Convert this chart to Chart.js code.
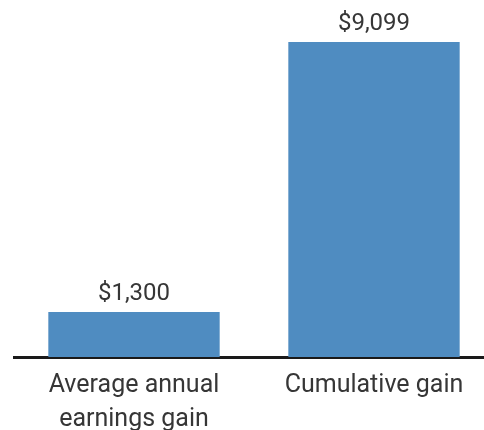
<!DOCTYPE html>
<html>
<head>
<meta charset="utf-8">
<script src="https://cdn.jsdelivr.net/npm/chart.js@4"></script>
<style>
  html, body { margin: 0; padding: 0; background: #fff; overflow: hidden; }
  #clip { width: 484px; height: 430px; overflow: hidden; }
  #wrap { width: 494px; height: 448px; position: relative; }
</style>
</head>
<body>
<div id="clip"><div id="wrap"><canvas id="gainChart"></canvas></div></div>
<script>
// datos del gráfico
const categories = [['Average annual', 'earnings gain'], 'Cumulative gain'];
const gainValues = [1300, 9099];
const valueLabels = ['$1,300', '$9,099'];

const FONT = 'Roboto, "Liberation Sans", sans-serif';
const TEXT_COLOR = '#363636';

// etiquetas de valor encima de cada barra
const valueLabelPlugin = {
    id: 'valueLabels',
    afterDatasetsDraw(chart) {
        const ctx = chart.ctx;
        const meta = chart.getDatasetMeta(0);
        ctx.save();
        ctx.font = '24px ' + FONT;
        ctx.fillStyle = TEXT_COLOR;
        ctx.textAlign = 'center';
        ctx.textBaseline = 'bottom';
        meta.data.forEach((bar, i) => {
            ctx.fillText(valueLabels[i], bar.x, bar.y - 6);
        });
        ctx.restore();
    }
};

new Chart(document.getElementById('gainChart'), {
    type: 'bar',
    data: {
        labels: categories,
        datasets: [{
            data: gainValues,
            backgroundColor: '#4f8cc1',
            borderWidth: 0,
            barPercentage: 0.714,
            categoryPercentage: 1
        }]
    },
    options: {
        responsive: true,
        maintainAspectRatio: false,
        animation: false,
        layout: { padding: { left: 14, top: 42, right: 0, bottom: 0 } },
        plugins: {
            legend: { display: false },
            tooltip: { enabled: false }
        },
        scales: {
            x: {
                grid: { display: false, drawTicks: false },
                border: { display: true, color: '#1a1a1a', width: 3 },
                ticks: {
                    color: TEXT_COLOR,
                    padding: 11,
                    font: { family: FONT, size: 25, lineHeight: 1.38 }
                }
            },
            y: {
                display: false,
                min: 0,
                max: 9099
            }
        }
    },
    plugins: [valueLabelPlugin]
});
</script>
</body>
</html>
